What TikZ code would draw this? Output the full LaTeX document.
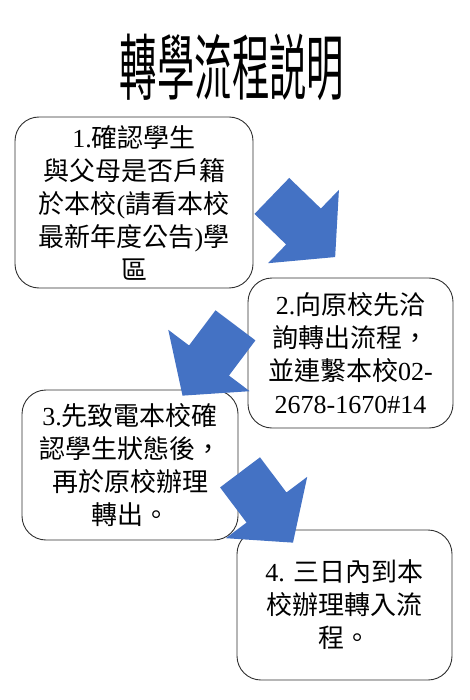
\documentclass[tikz,border=0pt]{standalone}
\usepackage{fontspec}
\usepackage{graphicx}
\usepackage{tikz}
\setmainfont{Liberation Serif}
\newfontfamily\cjk{Noto Sans CJK TC}
\definecolor{arrowblue}{HTML}{4472C4}
\definecolor{boxline}{HTML}{303030}

\begin{document}
\begin{tikzpicture}[x=1pt, y=-1pt,
                    box/.style={draw=boxline, line width=0.9pt, fill=white,
                                rounded corners=24pt, align=center, inner sep=0pt,
                                font=\fontsize{26}{33}\selectfont},
                    blockarrow/.pic={
                      \fill[arrowblue] (-44,-25) -- (0,-25) -- (0,-51) -- (44,0)
                                       -- (0,51) -- (0,25) -- (-44,25) -- cycle;}]
    \useasboundingbox (0,0) rectangle (470,700);

   \node (title) at (232,67)
        {\scalebox{0.52}[1]{\fontsize{72}{72}\selectfont\cjk 轉學流程説明}};

   \node[box, minimum width=238pt, minimum height=171pt] (check_home)  at (134,202.5)
        {1.{\cjk 確認學生}\\{\cjk 與父母是否戶籍}\\{\cjk 於本校}({\cjk 請看本校}\\{\cjk 最新年度公告}){\cjk 學}\\{\cjk 區}};
   \node[box, minimum width=205pt, minimum height=150pt] (ask_old)     at (350.5,353)
        {2.{\cjk 向原校先洽}\\{\cjk 詢轉出流程，}\\{\cjk 並連繫本校}02-\\2678-1670\#14};
   \node[box, minimum width=216pt, minimum height=150pt] (call_us)     at (130,465)
        {3.{\cjk 先致電本校確}\\{\cjk 認學生狀態後，}\\{\cjk 再於原校辦理}\\{\cjk 轉出。}};
   \node[box, minimum width=215pt, minimum height=150pt] (enroll_new)  at (344.5,605)
        {4. {\cjk 三日內到本}\\{\cjk 校辦理轉入流}\\{\cjk 程。}};

   % block arrows between the steps
   \pic[rotate=-44]  at (303.5,226.5) {blockarrow};
   \pic[rotate=-127] at (209,360.5)   {blockarrow};
   \pic[rotate=-53]  at (266.5,507.5) {blockarrow};

\end{tikzpicture}
\end{document}
